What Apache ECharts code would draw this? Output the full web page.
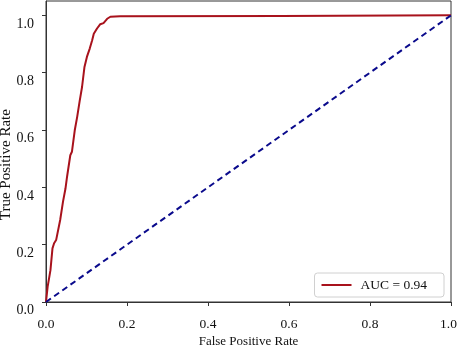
<!DOCTYPE html>
<html>
<head>
<meta charset="utf-8">
<script src="https://cdn.jsdelivr.net/npm/echarts@6/dist/echarts.min.js"></script>
<style>
  html, body { margin: 0; padding: 0; background: #fff; }
  #chart { width: 457px; height: 346px; }
</style>
</head>
<body>
<div id="chart"></div>
<script>
// ROC curve points
const fpr = [0, 0.004, 0.011, 0.016, 0.020, 0.025, 0.035, 0.042, 0.048, 0.052, 0.060, 0.064, 0.071, 0.077, 0.083, 0.089, 0.095, 0.101, 0.108, 0.114, 0.118, 0.126, 0.134, 0.142, 0.151, 0.159, 0.183, 0.58, 1.0];
const tpr = [0, 0.053, 0.111, 0.187, 0.205, 0.216, 0.286, 0.350, 0.395, 0.437, 0.512, 0.524, 0.599, 0.646, 0.700, 0.750, 0.820, 0.855, 0.884, 0.913, 0.936, 0.954, 0.969, 0.973, 0.988, 0.995, 0.997, 0.998, 1.0];

// chance diagonal
const chanceFpr = [0, 1];
const chanceTpr = [0, 1];

const tickValues = [0, 0.2, 0.4, 0.6, 0.8, 1.0];
const aucLabel = 'AUC = 0.94';

const font = 'Liberation Serif, Times New Roman, serif';
const chart = echarts.init(document.getElementById('chart'));

const axisLine = { show: true, onZero: false, lineStyle: { color: '#333', width: 1 } };
const axisTick = { show: true, inside: false, length: 4, customValues: tickValues, lineStyle: { color: '#333' } };

chart.setOption({
  animation: false,
  backgroundColor: '#fff',
  grid: {
    left: 46, right: 6, top: 1, bottom: 44,
    containLabel: false, outerBoundsMode: 'none',
    show: true, borderColor: '#333', borderWidth: 1
  },
  xAxis: {
    type: 'value',
    min: 0,
    max: 1,
    name: 'False Positive Rate',
    nameLocation: 'middle',
    nameGap: 33,
    nameMoveOverlap: false,
    nameTextStyle: { fontFamily: font, fontSize: 13, color: '#111' },
    splitLine: { show: false },
    axisLine,
    axisTick,
    axisLabel: {
      fontFamily: font, fontSize: 13.5, color: '#111', margin: 15,
      customValues: tickValues,
      formatter: v => (v === 1 ? '{r|1.0}' : v.toFixed(1)),
      rich: { r: { fontFamily: font, fontSize: 13.5, color: '#111', padding: [0, 5, 0, 0] } }
    }
  },
  yAxis: {
    type: 'value',
    min: 0,
    max: 1.05,
    // trailing no-break spaces push the centred title a little lower, as in the reference
    name: 'True Positive Rate\u00a0\u00a0\u00a0\u00a0\u00a0\u00a0\u00a0',
    nameLocation: 'middle',
    nameGap: 32,
    nameMoveOverlap: false,
    nameTextStyle: { fontFamily: font, fontSize: 15, color: '#111' },
    splitLine: { show: false },
    axisLine,
    axisTick,
    axisLabel: {
      fontFamily: font, fontSize: 14, color: '#111', margin: 12,
      verticalAlign: 'top',
      lineHeight: 17,
      customValues: tickValues,
      formatter: v => v.toFixed(1)
    }
  },
  legend: {
    data: [{ name: aucLabel, icon: 'rect' }],
    right: 13,
    bottom: 49,
    backgroundColor: '#fff',
    borderColor: '#d0d0d0',
    borderWidth: 1,
    borderRadius: 3,
    padding: [5, 17, 5, 7],
    itemWidth: 30,
    itemHeight: 2,
    itemGap: 0,
    textStyle: { fontFamily: font, fontSize: 13.5, color: '#111', padding: [0, 0, 0, 4] }
  },
  series: [
    {
      name: aucLabel,
      type: 'line',
      data: fpr.map((x, i) => [x, tpr[i]]),
      symbol: 'none',
      lineStyle: { color: '#a8121c', width: 2 },
      itemStyle: { color: '#a8121c' }
    },
    {
      name: 'chance',
      type: 'line',
      data: chanceFpr.map((x, i) => [x, chanceTpr[i]]),
      symbol: 'none',
      lineStyle: { color: '#0a0a8c', width: 2, type: [6, 4] }
    }
  ]
});
</script>
</body>
</html>
